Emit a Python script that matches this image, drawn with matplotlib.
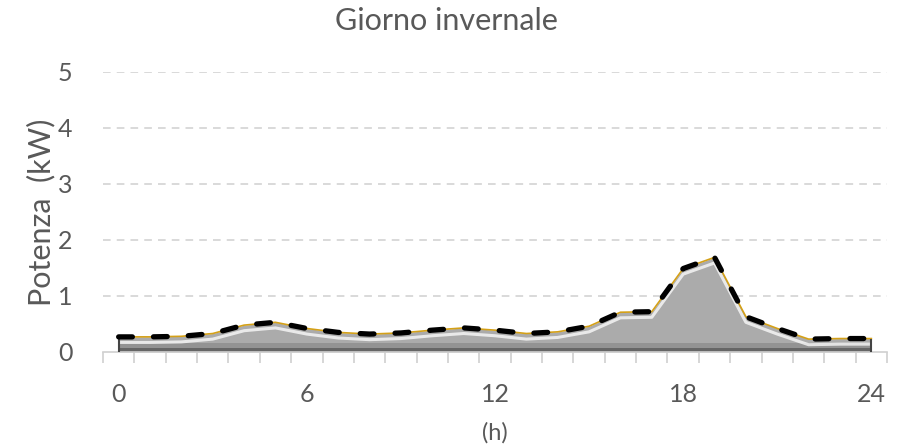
import numpy as np
import matplotlib.pyplot as plt

plt.rcParams['font.family'] = ['Lato', 'DejaVu Sans']

# ore del giorno e potenza (kW)
ore = list(range(25))
potenza = [0.27, 0.27, 0.28, 0.33, 0.48, 0.53, 0.42, 0.35, 0.32, 0.34, 0.39, 0.43, 0.39,
           0.33, 0.36, 0.46, 0.71, 0.72, 1.49, 1.69, 0.63, 0.42, 0.23, 0.24, 0.24]
tick_ore = [0, 6, 12, 18, 24]
tick_kw = [0, 1, 2, 3, 4, 5]

x = np.array(ore)
y = np.array(potenza)
grigio = '#595959'

fig = plt.figure(figsize=(9.08, 4.48), dpi=100)
ax = fig.add_axes([0.1134, 0.2143, 0.8635, 0.625])

# area grigia con effetto rilievo
ax.fill_between(x, 0, y, color='#ababab', lw=0, zorder=2)
ax.fill_between(x, 0, np.minimum(y, 0.16), color='#939393', lw=0, zorder=2)
ax.fill_between(x, 0, np.minimum(y, 0.07), color='#666666', lw=0, zorder=2)
ax.plot(x, np.maximum(y - 0.1, 0.12), color='white', lw=2.2, alpha=0.75, zorder=3)
ax.plot(x, y, color='#d4a017', lw=1.2, zorder=4)
ax.vlines([0, 24], 0, [y[0], y[-1]], color='#444444', lw=1.5, zorder=4)

# linea tratteggiata
ax.plot(x, y, color='black', lw=3.8, dashes=(2.6, 4.0), dash_capstyle='round', zorder=5)

ax.set_xlim(-0.5, 24.5)
ax.set_ylim(0, 5)
ax.set_xticks(tick_ore)
ax.set_xticks(np.arange(-0.5, 25, 1), minor=True)
ax.set_yticks(tick_kw)

for v in tick_kw[1:]:
    ax.axhline(v, color='#d0d0d0', lw=1.1, dashes=(5, 4), zorder=1)

for s in ['top', 'right', 'left']:
    ax.spines[s].set_visible(False)
ax.spines['bottom'].set_color('#d0d0d0')
ax.spines['bottom'].set_linewidth(1.2)

ax.tick_params(axis='x', which='major', length=0, pad=22, labelsize=18, labelcolor=grigio)
ax.tick_params(axis='x', which='minor', length=8, width=1.2, color='#d0d0d0', direction='out')
ax.tick_params(axis='y', length=0, pad=22, labelsize=18, labelcolor=grigio)

fig.text(0.492, 0.953, 'Giorno invernale', fontsize=22, color=grigio, ha='center', va='center')
ax.set_ylabel('Potenza  (kW)', fontsize=22, color=grigio, labelpad=2)
ax.set_xlabel('(h)', fontsize=17, color=grigio, labelpad=12)

fig.savefig('out.png', dpi=100)
